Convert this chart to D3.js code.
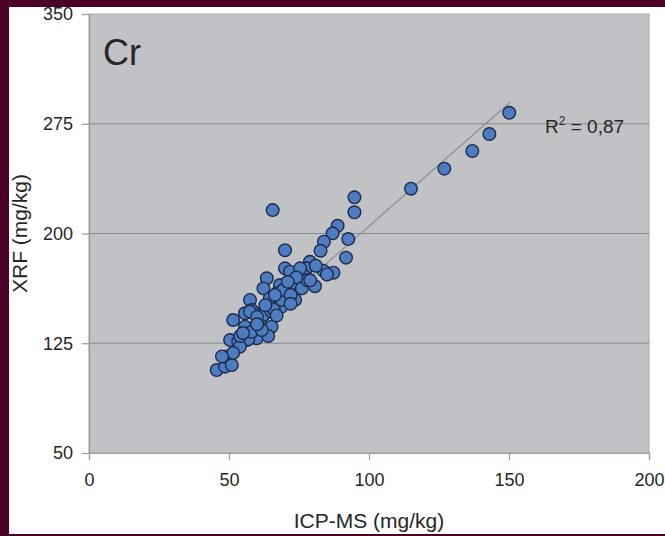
<html>
<head>
    <title>Cr XRF vs ICP-MS</title>
    <script src="https://d3js.org/d3.v7.min.js"></script>
    <style>
        body { margin: 0; background: #4b0026; }
        text { font-family: "Liberation Sans", Arial, sans-serif; fill: #262626; }
        .tick text { font-size: 18px; }
        .axis-title { font-size: 21px; }
    </style>
</head>

<body>
<svg width="665" height="536"></svg>
<script>

    // ICP-MS (mg/kg) values
    var icpms = [150.1, 143, 136.9, 126.9, 115, 94.8, 94.8, 88.8, 87, 92.6,
        83.9, 82.7, 70, 91.8, 78.9, 65.6, 70, 71.8, 77.7, 83.7,
        87.3, 76.5, 80.7, 75.4, 73, 70, 63.5, 62.3, 65.2, 70,
        73.6, 68.2, 62.3, 68.2, 76, 69.4, 70.6, 57.5, 67, 68.8,
        58.1, 63.5, 55.7, 65.2, 58.7, 55.7, 56.3, 59.9, 51.5, 45.6,
        48.6, 48.6, 51, 50.4, 53.3, 56.9, 53.9, 58.1, 64, 61.7,
        61.1, 57.5, 62.3, 65.2, 64.6, 68.8, 69.4, 75.4, 51.5, 66.4,
        78, 72, 47.5, 60, 54, 66, 72, 74, 79, 60,
        55, 67, 81, 85, 71, 63];

    // XRF (mg/kg) values, same order
    var xrf = [282.5, 268, 256.4, 244.3, 230.6, 224.7, 214.5, 205.3, 200.1, 196.2,
        194.4, 188.2, 188.6, 183.5, 180.7, 216, 176.2, 173.9, 176.2, 174.6,
        173.2, 171.6, 164, 163.6, 166, 162.5, 169.4, 162.5, 155.7, 156.8,
        154.6, 150, 146.6, 164.8, 162.5, 159.1, 155.7, 154.6, 159.1, 150,
        147.7, 146.6, 145.5, 136.3, 135.2, 136.3, 127.2, 128.4, 140.9, 106.7,
        109, 115.8, 110.1, 127.2, 126, 127.7, 122.6, 132.9, 130, 134,
        140.9, 146.6, 144.3, 146.6, 155.7, 154.6, 161.4, 176.2, 118.4, 158,
        168, 158, 116, 143, 130, 148, 152, 170, 168, 138,
        132, 144, 178, 172, 167, 151];

    // linear trend
    var trendSlope = 1.68;
    var trendIntercept = 37;
    var r2Label = "0,87";

    var xTicks = [0, 50, 100, 150, 200];
    var yTicks = [50, 125, 200, 275, 350];
    var gridValues = [125, 200, 275];

    var svg = d3.select("svg");

    // outer frame and white page
    svg.append("rect").attr("width", 665).attr("height", 536).attr("fill", "#4b0026");
    svg.append("rect").attr("x", 9).attr("y", 7).attr("width", 656).attr("height", 527).attr("fill", "#ffffff");

    var plotLeft = 89, plotRight = 649, plotTop = 14, plotBottom = 453;

    var x = d3.scaleLinear().domain([0, 200]).range([plotLeft, plotRight]);
    var y = d3.scaleLinear().domain([50, 350]).range([plotBottom, plotTop]);

    // plot area
    svg.append("rect")
        .attr("x", plotLeft).attr("y", plotTop)
        .attr("width", plotRight - plotLeft).attr("height", plotBottom - plotTop)
        .attr("fill", "#c0c2c5")
        .attr("stroke", "#a4a6a8")
        .attr("stroke-width", 1);

    // gridlines
    svg.append("g")
        .selectAll("line")
        .data(gridValues)
        .enter().append("line")
        .attr("x1", plotLeft).attr("x2", plotRight)
        .attr("y1", function(d) { return y(d); })
        .attr("y2", function(d) { return y(d); })
        .attr("stroke", "#8a8b8d")
        .attr("stroke-width", 1.2);

    // axes
    var yAxis = svg.append("g")
        .attr("transform", "translate(" + plotLeft + ",0)")
        .call(d3.axisLeft(y).tickValues(yTicks).tickSize(7).tickPadding(9));

    var xAxis = svg.append("g")
        .attr("transform", "translate(0," + plotBottom + ")")
        .call(d3.axisBottom(x).tickValues(xTicks).tickSize(7).tickPadding(13));

    [xAxis, yAxis].forEach(function(ax) {
        ax.select(".domain").attr("stroke", "#9a9a9a").attr("stroke-width", 1.2);
        ax.selectAll(".tick line").attr("stroke", "#9a9a9a").attr("stroke-width", 1.2);
        ax.selectAll(".tick text").style("font-family", "'Liberation Sans', Arial, sans-serif")
            .attr("fill", "#262626");
    });

    // trend line over the data extent
    var xExt = d3.extent(icpms);
    svg.append("line")
        .attr("x1", x(xExt[0])).attr("y1", y(trendSlope * xExt[0] + trendIntercept))
        .attr("x2", x(xExt[1] + 0.4)).attr("y2", y(trendSlope * (xExt[1] + 0.4) + trendIntercept))
        .attr("stroke", "#8e8e90")
        .attr("stroke-width", 1.2);

    // points
    var points = icpms.map(function(v, i) { return {x: v, y: xrf[i]}; });

    svg.append("g")
        .selectAll("circle")
        .data(points)
        .enter().append("circle")
        .attr("cx", function(d) { return x(d.x); })
        .attr("cy", function(d) { return y(d.y); })
        .attr("r", 6.3)
        .attr("fill", "#4e7cc0")
        .attr("stroke", "#1d2c4c")
        .attr("stroke-width", 1.4);

    // labels
    svg.append("text")
        .attr("x", 103).attr("y", 65)
        .style("font-size", "36px")
        .text("Cr");

    var r2 = svg.append("text")
        .attr("x", 545).attr("y", 133)
        .style("font-size", "19px");
    r2.append("tspan").text("R");
    r2.append("tspan").attr("dy", -8).style("font-size", "12px").text("2");
    r2.append("tspan").attr("dy", 8).text(" = " + r2Label);

    svg.append("text")
        .attr("class", "axis-title")
        .attr("x", (plotLeft + plotRight) / 2).attr("y", 528)
        .attr("text-anchor", "middle")
        .text("ICP-MS (mg/kg)");

    svg.append("text")
        .attr("class", "axis-title")
        .attr("transform", "translate(27," + ((plotTop + plotBottom) / 2) + ") rotate(-90)")
        .attr("text-anchor", "middle")
        .text("XRF (mg/kg)");

</script>
</body>

</html>
